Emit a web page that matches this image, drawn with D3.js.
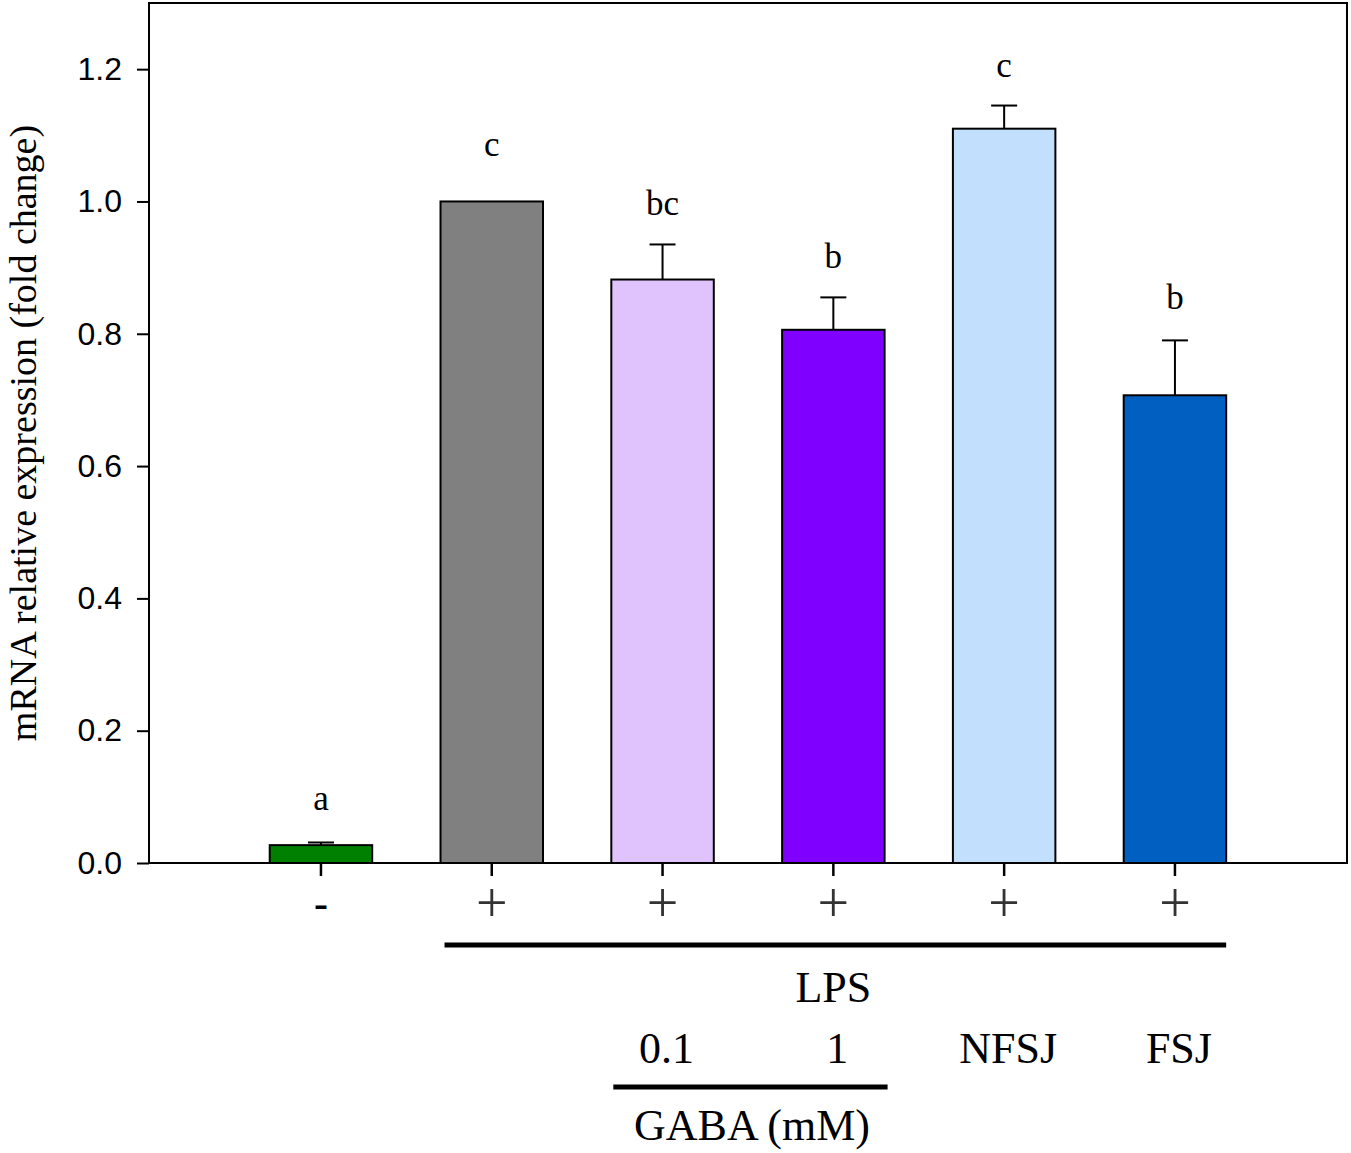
<!DOCTYPE html>
<html><head><meta charset="utf-8">
<script src="https://cdn.jsdelivr.net/npm/d3@7"></script>
<style>body{margin:0;background:#fff}svg{display:block}</style>
</head><body>
<script>
const categories = ["ctrl","LPS","GABA0.1","GABA1","NFSJ","FSJ"];
const values = [0.027, 1.0, 0.882, 0.806, 1.110, 0.707];
const errors = [0.004, 0.0, 0.053, 0.049, 0.035, 0.083];
const letters = ["a","c","bc","b","c","b"];
const letterY = [0.080, 1.068, 0.980, 0.900, 1.188, 0.837];
const lpsSigns = ["-","+","+","+","+","+"];
const colors = ["#008000","#808080","#E0C2FD","#8000FF","#C2E0FD","#005FC0"];
const yTicks = [0.0,0.2,0.4,0.6,0.8,1.0,1.2];
const treatLabels = [null,null,"0.1","1","NFSJ","FSJ"];

const W=1351,H=1153;
const svg=d3.select("body").append("svg").attr("width",W).attr("height",H);
const L=149,R=1347,T=3,B=863;
const x=d3.scaleBand().domain(categories).range([201.4,1294.5]).paddingInner(0.4).paddingOuter(0.4);
const y=d3.scaleLinear().domain([0,1.3]).range([B,T]);
const serif="'Liberation Serif','Times New Roman',serif";
const sans="'Liberation Sans',Arial,sans-serif";

// frame
svg.append("rect").attr("x",L).attr("y",T).attr("width",R-L).attr("height",B-T)
  .attr("fill","none").attr("stroke","#000").attr("stroke-width",2);

// y axis
const ya=svg.append("g").attr("transform",`translate(${L},0)`)
  .call(d3.axisLeft(y).tickValues(yTicks).tickFormat(d3.format(".1f")).tickSize(12).tickSizeOuter(0));
ya.select(".domain").remove();
ya.selectAll("line").attr("stroke","#000").attr("stroke-width",2);
ya.selectAll("text").attr("font-family",sans).attr("font-size",32).attr("fill","#000").attr("dx",-12);

// x axis ticks
const xa=svg.append("g").attr("transform",`translate(0,${B})`)
  .call(d3.axisBottom(x).tickSize(13).tickFormat(""));
xa.select(".domain").remove();
xa.selectAll("line").attr("stroke","#000").attr("stroke-width",2.5);

// bars
svg.selectAll("rect.bar").data(categories).join("rect").attr("class","bar")
  .attr("x",d=>x(d)).attr("width",x.bandwidth())
  .attr("y",(d,i)=>y(values[i])).attr("height",(d,i)=>y(0)-y(values[i]))
  .attr("fill",(d,i)=>colors[i]).attr("stroke","#000").attr("stroke-width",2);

// error bars
const cx=d=>x(d)+x.bandwidth()/2;
categories.forEach((d,i)=>{
  if(errors[i]<=0) return;
  const g=svg.append("g").attr("stroke","#000").attr("stroke-width",2);
  g.append("line").attr("x1",cx(d)).attr("x2",cx(d)).attr("y1",y(values[i])).attr("y2",y(values[i]+errors[i]));
  g.append("line").attr("x1",cx(d)-13).attr("x2",cx(d)+13).attr("y1",y(values[i]+errors[i])).attr("y2",y(values[i]+errors[i]));
});

// letters
svg.selectAll("text.let").data(categories).join("text").attr("class","let")
  .attr("x",d=>cx(d)).attr("y",(d,i)=>y(letterY[i]))
  .attr("text-anchor","middle").attr("font-family",serif).attr("font-size",35)
  .text((d,i)=>letters[i]);

// y label
svg.append("text").attr("transform","translate(36,433) rotate(-90)")
  .attr("text-anchor","middle").attr("font-family",serif).attr("font-size",38)
  .text("mRNA relative expression (fold change)");

// LPS signs
svg.selectAll("text.sign").data(categories).join("text").attr("class","sign")
  .attr("x",d=>cx(d)).attr("y",(d,i)=>lpsSigns[i]==="-"?917:922).attr("text-anchor","middle")
  .attr("font-family",serif).attr("font-size",(d,i)=>lpsSigns[i]==="-"?42:56)
  .attr("font-weight",(d,i)=>lpsSigns[i]==="-"?"bold":"normal")
  .attr("fill",(d,i)=>lpsSigns[i]==="-"?"#000":"#333")
  .text((d,i)=>lpsSigns[i]);

// LPS line
svg.append("line").attr("x1",x(categories[1])+4).attr("x2",x(categories[5])+x.bandwidth())
  .attr("y1",945).attr("y2",945).attr("stroke","#000").attr("stroke-width",5);
svg.append("text").attr("x",(x(categories[1])+x(categories[5])+x.bandwidth())/2).attr("y",1002)
  .attr("text-anchor","middle").attr("font-family",serif).attr("font-size",44).text("LPS");

// treatment labels
svg.selectAll("text.treat").data(categories.filter((d,i)=>treatLabels[i])).join("text").attr("class","treat")
  .attr("x",d=>cx(d)+4).attr("y",1063).attr("text-anchor","middle")
  .attr("font-family",serif).attr("font-size",44)
  .text(d=>treatLabels[categories.indexOf(d)]);

// GABA line
svg.append("line").attr("x1",x(categories[2])+2).attr("x2",x(categories[3])+x.bandwidth()+3)
  .attr("y1",1087).attr("y2",1087).attr("stroke","#000").attr("stroke-width",5);
svg.append("text").attr("x",752).attr("y",1140)
  .attr("text-anchor","middle").attr("font-family",serif).attr("font-size",44).text("GABA (mM)");
</script>
</body></html>
